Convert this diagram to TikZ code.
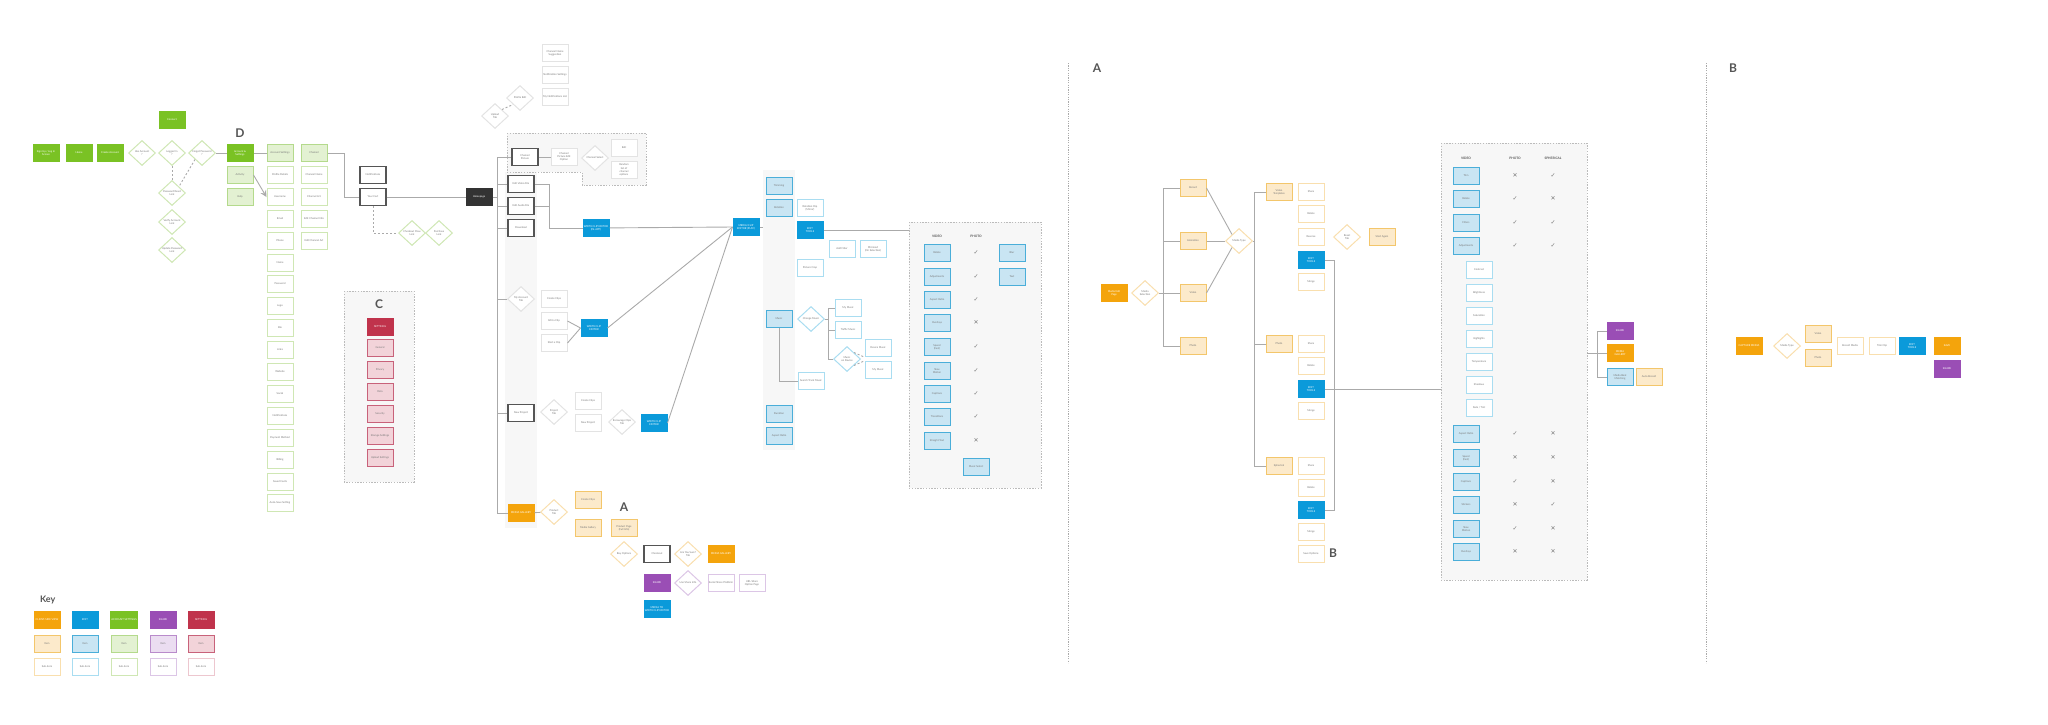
\documentclass[tikz,border=0pt]{standalone}
\usepackage{fontspec}
\setmainfont{Lato}
\newfontfamily\symf{DejaVu Sans}
\usetikzlibrary{shapes.geometric, arrows, positioning}

\definecolor{cgreen}{HTML}{7AC224}
\definecolor{cgreenl}{HTML}{E3F1D2}
\definecolor{cgreenb}{HTML}{B4DA8C}
\definecolor{cgreeno}{HTML}{CFE7B4}
\definecolor{corange}{HTML}{F4A40C}
\definecolor{corangel}{HTML}{FCEACB}
\definecolor{corangeb}{HTML}{F3C66B}
\definecolor{corangeo}{HTML}{F9DFAE}
\definecolor{cblue}{HTML}{0B9ADA}
\definecolor{cbluel}{HTML}{C9E5F3}
\definecolor{cblueb}{HTML}{4AAED9}
\definecolor{cblueo}{HTML}{A9DDF1}
\definecolor{cpurple}{HTML}{9A4EB5}
\definecolor{cpurplel}{HTML}{EBDDF1}
\definecolor{cpurpleb}{HTML}{B98BCB}
\definecolor{cpurpleo}{HTML}{DCC6E6}
\definecolor{cred}{HTML}{C0334C}
\definecolor{credl}{HTML}{F2D3D9}
\definecolor{credb}{HTML}{C8627A}
\definecolor{credo}{HTML}{EDC7CF}
\definecolor{cdark}{HTML}{555555}
\definecolor{cblack}{HTML}{333333}
\definecolor{cline}{HTML}{AAAAAA}
\definecolor{cwline}{HTML}{E3E3E3}
\definecolor{cpanel}{HTML}{F7F7F7}
\definecolor{ctext}{HTML}{777777}

\tikzstyle{box}     = [minimum width=13pt, minimum height=8.7pt, inner sep=0.3pt, align=center, line width=0.5pt, text=ctext, font=\fontsize{1.3}{1.6}\selectfont]
\tikzstyle{gfull}   = [box, fill=cgreen, draw=cgreen, text=white]
\tikzstyle{glight}  = [box, fill=cgreenl, draw=cgreenb]
\tikzstyle{gline}   = [box, fill=white, draw=cgreeno]
\tikzstyle{ofull}   = [box, fill=corange, draw=corange, text=white]
\tikzstyle{olight}  = [box, fill=corangel, draw=corangeb]
\tikzstyle{oline}   = [box, fill=white, draw=corangeo]
\tikzstyle{bfull}   = [box, fill=cblue, draw=cblue, text=white]
\tikzstyle{blight}  = [box, fill=cbluel, draw=cblueb]
\tikzstyle{bline}   = [box, fill=white, draw=cblueo]
\tikzstyle{pfull}   = [box, fill=cpurple, draw=cpurple, text=white]
\tikzstyle{plight}  = [box, fill=cpurplel, draw=cpurpleb]
\tikzstyle{pline}   = [box, fill=white, draw=cpurpleo]
\tikzstyle{rfull}   = [box, fill=cred, draw=cred, text=white]
\tikzstyle{rlight}  = [box, fill=credl, draw=credb]
\tikzstyle{rline}   = [box, fill=white, draw=credo]
\tikzstyle{dbox}    = [box, fill=white, draw=cdark, line width=0.7pt]
\tikzstyle{wbox}    = [box, fill=white, draw=cwline]
\tikzstyle{blk}     = [box, fill=cblack, draw=cblack, text=white]
\tikzstyle{dia}     = [diamond, aspect=1, minimum width=13.5pt, minimum height=12.5pt, inner sep=0pt, align=center, fill=white, line width=0.5pt, text=ctext, font=\fontsize{1.3}{1.6}\selectfont]
\tikzstyle{gdia}    = [dia, draw=cgreeno]
\tikzstyle{odia}    = [dia, draw=corangeo]
\tikzstyle{bdia}    = [dia, draw=cblueo]
\tikzstyle{pdia}    = [dia, draw=cpurpleo]
\tikzstyle{wdia}    = [dia, draw=cwline]
\tikzstyle{edge}    = [draw=cline, line width=0.45pt]
\tikzstyle{dedge}   = [edge, dash pattern=on 1pt off 1pt]
\tikzstyle{panel}   = [draw=cline!80, dash pattern=on 0.7pt off 0.7pt, fill=cpanel, line width=0.45pt]
\tikzstyle{divider} = [draw=cline, dash pattern=on 0.6pt off 0.6pt, line width=0.5pt]
\tikzstyle{letter}  = [font=\bfseries\fontsize{6}{6}\selectfont, text=cdark]
\tikzstyle{head}    = [font=\bfseries\fontsize{1.6}{2}\selectfont, text=cdark]
\tikzstyle{chk}     = [font=\symf\fontsize{3}{3}\selectfont, text=ctext]

\begin{document}
\begin{tikzpicture}[x=0.5pt, y=-0.5pt]
\useasboundingbox (0,0) rectangle (2048,724);

% podklady
\draw[panel] (344,291) rectangle (414,482);
\fill[cpanel] (505,172) rectangle (537,528);
\draw[panel] (507,133) -- (646,133) -- (646,185) -- (582,185) -- (582,172) -- (507,172) -- cycle;
\fill[cpanel] (763,170) rectangle (795,450);
\draw[panel] (909,222) rectangle (1041,488);
\draw[panel] (1441,143) rectangle (1587,580);
\draw[divider] (1068,63) -- (1068,663);
\draw[divider] (1706,63) -- (1706,663);

\node[letter] (lD) at (240,133) {D};
\node[letter] (lC) at (379,304) {C};
\node[letter] (lA) at (624,507) {A};
\node[letter] (lA2) at (1097,68) {A};
\node[letter] (lB) at (1733,68) {B};
\node[letter] (lB2) at (1333,553) {B};

% prihlaseni
\node[gfull] (g1) at (46,153) {Sign Up / Log In\\Screen};
\node[gfull] (g2) at (79,153) {Home};
\node[gfull] (g3) at (110,153) {Create Account};
\node[gdia] (gd1) at (142,153) {Has Account\\?};
\node[gdia] (gd2) at (172,153) {Logged In\\?};
\node[gdia] (gd3) at (202,153) {Forgot Password\\?};
\node[gfull] (gtop) at (172,120) {Connect};
\node[gdia] (gd4) at (172,193) {Password Reset\\Link};
\node[gdia] (gd5) at (172,222) {Verify Account\\Link};
\node[gdia] (gd6) at (172,250) {Update Password\\Link};

\draw[dedge] (gd2) -- (gd4);
\draw[dedge] (gd3.south west) -- (gd4.north east);

% ucet
\node[gfull] (gacc) at (240,153) {Account \&\\Settings};
\node[glight] (gl1) at (240,175) {Activity};
\node[glight] (gl2) at (240,197) {Help};
\draw[edge] (gd3) -- (gacc);

\node[glight] (c1a) at (280,153) {Account Settings};
\node[gline] (c1b) at (280,175) {Profile Details};
\node[gline] (c1c) at (280,197) {Username};
\node[gline] (c1d) at (280,219) {Email};
\node[gline] (c1e) at (280,241) {Phone};
\node[gline] (c1f) at (280,263) {Name};
\node[gline] (c1g) at (280,284) {Password};
\node[gline] (c1h) at (280,306) {Logo};
\node[gline] (c1i) at (280,328) {Bio};
\node[gline] (c1j) at (280,350) {Links};
\node[gline] (c1k) at (280,372) {Website};
\node[gline] (c1l) at (280,394) {Social};
\node[gline] (c1m) at (280,416) {Notifications};
\node[gline] (c1n) at (280,438) {Payment Method};
\node[gline] (c1o) at (280,460) {Billing};
\node[gline] (c1p) at (280,482) {Saved Cards};
\node[gline] (c1q) at (280,503) {Auto-Save Setting};

\node[glight] (c2a) at (314,153) {Channel};
\node[gline] (c2b) at (314,175) {Channel Name};
\node[gline] (c2c) at (314,197) {Channel Art};
\node[gline] (c2d) at (314,219) {Edit Channel Info};
\node[gline] (c2e) at (314,241) {Edit Channel Art};

\draw[edge] (gacc) -- (c1a);
\draw[edge, ->, >=stealth] (gl1.east) -- (c1c.west);

\node[dbox] (notif) at (373,175) {Notifications};
\node[dbox] (cart) at (373,197) {Your Cart};
\node[gdia] (cd1) at (412,233) {Checkout Flow\\Link};
\node[gdia] (cd2) at (439,233) {Purchase\\Link};
\draw[edge] (c2a.east) -- ++(17,0) |- (cart.west);
\draw[dedge] (cart.south) |- (cd1.west);

% nastaveni
\node[rfull] (r0) at (380,327) {SETTINGS};
\node[rlight] (r1) at (380,348) {General};
\node[rlight] (r2) at (380,370) {Privacy};
\node[rlight] (r3) at (380,392) {Data};
\node[rlight] (r4) at (380,414) {Security};
\node[rlight] (r5) at (380,436) {Storage Settings};
\node[rlight] (r6) at (380,458) {Upload Settings};

% hlavni stranka
\node[blk] (home) at (479,197) {Homepage};
\draw[edge] (cart) -- (home);
\coordinate (spine) at (497,0);

\node[wbox] (t1) at (555,53) {Channel Name\\Suggestion};
\node[wbox] (t2) at (555,75) {Notification Settings};
\node[wbox] (t3) at (555,97) {My Notifications List};
\node[wdia] (td1) at (520,98) {Profile Edit};
\node[wdia] (td2) at (495,116) {Upload\\Tab};
\draw[dedge] (td2.north east) -- (td1.south west);

\node[dbox] (pb1) at (525,157) {Channel\\Picture};
\node[wbox] (pb2) at (564,157) {Channel\\Picture Edit\\Option};
\node[wdia] (pd) at (595,158) {Channel Select};
\node[wbox] (pb3) at (624,148) {Edit};
\node[wbox] (pb4) at (624,170) {Random\\list of\\channel\\options};
\draw[edge] (pb1) -- (pb2);

\node[dbox] (b1) at (521,184) {Edit Video File};
\node[dbox] (b2) at (521,206) {Edit Audio File};
\node[dbox] (b3) at (521,228) {Download};
\node[bfull] (wc) at (596,228) {WRITE CLIP EDITOR\\(IN-APP)};
\node[bfull] (mc) at (746,227) {MEDIA/CLIP\\EDITOR (PLAY)};

\node[wdia] (md) at (521,299) {My Account\\Tab};
\node[wbox] (m1) at (554,299) {Create Clips};
\node[wbox] (m2) at (554,321) {Edit a Clip};
\node[wbox] (m3) at (554,343) {Start a Clip};
\node[bfull] (mw) at (594,328) {WRITE CLIP\\EDITOR};

\node[dbox] (nb) at (521,413) {New Project};
\node[wdia] (nd) at (554,412) {Project\\Tab};
\node[wbox] (n1) at (588,401) {Create Clips};
\node[wbox] (n2) at (588,423) {New Project};
\node[wdia] (nd2) at (622,422) {Encourage Clips\\Tab};
\node[bfull] (nw) at (654,423) {WRITE CLIP\\EDITOR};

\node[ofull] (buy) at (521,513) {MEDIA GALLERY};
\node[odia] (bd) at (554,512) {Product\\Tab};
\node[olight] (ob1) at (588,500) {Create Clips};
\node[olight] (ob2) at (588,528) {Media Gallery};
\node[olight] (ob3) at (624,528) {Product Page\\(Full Info)};
\node[odia] (ad) at (624,554) {Buy Options};
\node[dbox] (ab) at (657,554) {Checkout};
\node[odia] (ad2) at (688,554) {Are You Sure?\\Tab};
\node[ofull] (ao) at (721,554) {MEDIA GALLERY};
\node[pfull] (pu) at (657,583) {SHARE};
\node[pdia] (pd2) at (688,583) {Use Share Info};
\node[pline] (pw1) at (721,583) {Social Share Platform};
\node[pline] (pw2) at (752,583) {URL Share\\Option Page};
\node[bfull] (bl) at (657,609) {MEDIA TO\\WRITE CLIP EDITOR};

% pater
\draw[edge] (pb1.west) -- (pb1.west -| spine) |- (buy.west);
\draw[edge] (home.east) -- (home.east -| spine);
\draw[edge] (b1.west) -- (b1.west -| spine);
\draw[edge] (b2.west) -- (b2.west -| spine);
\draw[edge] (b3.west) -- (b3.west -| spine);
\draw[edge] (md.west) -- (md.west -| spine);
\draw[edge] (nb.west) -- (nb.west -| spine);
\draw[edge] (buy) -- (bd);

\coordinate (brk) at (549,0);
\draw[edge] (b1.east) -- (b1.east -| brk) |- (wc.west);
\draw[edge] (b2.east) -- (b2.east -| brk);
\draw[edge] (wc) -- (mc.west);
\draw[edge] (m2.east) -- (mw.west);
\draw[edge] (m3.east) -- (mw.west);
\draw[edge] (mw.east) -- (mc.west);
\draw[edge] (nw.east) -- (mc.west);

% editor
\coordinate (colin) at (763,227);
\draw[edge] (mc.east) -- (colin);
\node[blight] (bc1) at (779,186) {Trimming};
\node[blight] (bc2) at (779,208) {Rotation};
\node[blight] (bc3) at (779,319) {Music};
\node[blight] (bc4) at (779,414) {Duration};
\node[blight] (bc5) at (779,436) {Aspect Ratio};

\node[bline] (bw1) at (810,208) {Rotation Clip\\(Mirror)};
\node[bfull] (bsel) at (810,230) {EDIT\\TOOLS};
\node[bline] (bw2) at (810,268) {Picture Crop};
\node[bline] (bw3) at (842,249) {Add Filter};
\node[bline] (bw4) at (873,249) {Mirrored\\(On Selection)};
\coordinate (vp) at (909,230);
\draw[edge] (bsel) -- (vp);

\node[bdia] (bdm) at (811,319) {Change Music};
\node[bline] (bx1) at (848,308) {My Music};
\node[bline] (bx2) at (848,330) {Traffic Music};
\node[bdia] (bdm2) at (847,359) {Music\\on Device};
\node[bline] (bx3) at (878,348) {Device Music};
\node[bline] (bx4) at (878,370) {My Music};
\node[bline] (bw5) at (811,381) {Search Track Music};
\coordinate (bk) at (828,0);
\draw[edge] (bx1.west) -| (bk |- bdm2.west) -- (bdm2.west);
\draw[edge] (bx2.west) -- (bx2.west -| bk);
\draw[edge] (bdm.east) -- (bdm.east -| bk);
\draw[dedge] (bdm2.north east) -- (bx3.south west);
\draw[dedge] (bdm2.south east) -- (bx4.north west);
\draw[edge] (bc3.south) |- (bw5.west);

% tabulka 1
\node[head] (h1) at (937,236) {VIDEO};
\node[head] (h2) at (976,236) {PHOTO};
\node[blight] (v1) at (937,253) {Rotate};
\node[blight] (v2) at (937,277) {Adjustments};
\node[blight] (v3) at (937,300) {Aspect Ratio};
\node[blight] (v4) at (937,323) {Overlays};
\node[blight] (v5) at (937,347) {Speed\\(Fast)};
\node[blight] (v6) at (937,371) {Slow\\Motion};
\node[blight] (v7) at (937,394) {Captions};
\node[blight] (v8) at (937,417) {Transitions};
\node[blight] (v9) at (937,441) {Straight Text};
\node[chk] (k1) at (976,253) {✓};
\node[chk] (k2) at (976,277) {✓};
\node[chk] (k3) at (976,300) {✓};
\node[chk] (k4) at (976,323) {✕};
\node[chk] (k5) at (976,347) {✓};
\node[chk] (k6) at (976,371) {✓};
\node[chk] (k7) at (976,394) {✓};
\node[chk] (k8) at (976,417) {✓};
\node[chk] (k9) at (976,441) {✕};
\node[blight] (v10) at (1012,253) {Blur};
\node[blight] (v11) at (1012,277) {Text};
\node[blight] (v12) at (976,467) {Music Select};

% sekce A
\node[ofull] (as) at (1114,293) {Media Edit\\Page};
\node[odia] (asd) at (1145,293) {Media\\Selection};
\node[olight] (a1) at (1193,188) {Record};
\node[olight] (a2) at (1193,241) {Animation};
\node[olight] (a3) at (1193,293) {Video};
\node[olight] (a4) at (1193,346) {Photo};
\coordinate (ak) at (1163,0);
\draw[edge] (a1.west) -| (ak |- a4.west) -- (a4.west);
\draw[edge] (a2.west) -- (a2.west -| ak);
\draw[edge] (asd.east) -- (a3.west);

\node[odia] (mdia) at (1239,241) {Media Type};
\draw[edge] (a1.east) -- (mdia.north west);
\draw[edge] (a2.east) -- (mdia.west);
\draw[edge] (a3.east) -- (mdia.south west);

\node[olight] (e1) at (1279,192) {Video\\Templates};
\node[olight] (e2) at (1279,344) {Photo};
\node[olight] (e3) at (1279,466) {Spherical};
\coordinate (ek) at (1254,0);
\draw[edge] (e1.west) -| (ek |- e3.west) -- (e3.west);
\draw[edge] (e2.west) -- (e2.west -| ek);
\draw[edge] (mdia.east) -- (mdia.east -| ek);

\node[oline] (f1) at (1311,192) {Share};
\node[oline] (f2) at (1311,214) {Rotate};
\node[oline] (f3) at (1311,237) {Reverse};
\node[bfull] (f4) at (1311,260) {EDIT\\TOOLS};
\node[oline] (f5) at (1311,282) {Merge};
\node[oline] (f6) at (1311,344) {Share};
\node[oline] (f7) at (1311,366) {Rotate};
\node[bfull] (f8) at (1311,389) {EDIT\\TOOLS};
\node[oline] (f9) at (1311,411) {Merge};
\node[oline] (f10) at (1311,466) {Share};
\node[oline] (f11) at (1311,488) {Rotate};
\node[bfull] (f12) at (1311,510) {EDIT\\TOOLS};
\node[oline] (f13) at (1311,532) {Merge};
\node[oline] (f14) at (1311,554) {Save Options};
\node[odia] (fd) at (1347,237) {Reset\\Tab};
\node[olight] (fs) at (1382,237) {Start Again};

\draw[edge] (f4.east) -- ++(10,0) |- (f12.east);
\coordinate (tp) at (1441,389);
\draw[edge] (f8.east) -- (tp);

% tabulka 2
\node[head] (j1) at (1466,158) {VIDEO};
\node[head] (j2) at (1515,158) {PHOTO};
\node[head] (j3) at (1553,158) {SPHERICAL};
\node[blight] (w1) at (1466,176) {Trim};
\node[blight] (w2) at (1466,199) {Rotate};
\node[blight] (w3) at (1466,223) {Filters};
\node[blight] (w4) at (1466,246) {Adjustments};
\node[bline] (w5) at (1479,270) {Contrast};
\node[bline] (w6) at (1479,293) {Brightness};
\node[bline] (w7) at (1479,316) {Saturation};
\node[bline] (w8) at (1479,339) {Highlights};
\node[bline] (w9) at (1479,362) {Temperature};
\node[bline] (w10) at (1479,385) {Shadows};
\node[bline] (w11) at (1479,408) {Fade / Tint};
\node[blight] (w12) at (1466,434) {Aspect Ratio};
\node[blight] (w13) at (1466,458) {Speed\\(Fast)};
\node[blight] (w14) at (1466,482) {Captions};
\node[blight] (w15) at (1466,505) {Stickers};
\node[blight] (w16) at (1466,529) {Slow\\Motion};
\node[blight] (w17) at (1466,552) {Overlays};
\node[chk] (x1) at (1515,176) {✕};
\node[chk] (y1) at (1553,176) {✓};
\node[chk] (x2) at (1515,199) {✓};
\node[chk] (y2) at (1553,199) {✕};
\node[chk] (x3) at (1515,223) {✓};
\node[chk] (y3) at (1553,223) {✓};
\node[chk] (x4) at (1515,246) {✓};
\node[chk] (y4) at (1553,246) {✓};
\node[chk] (x12) at (1515,434) {✓};
\node[chk] (y12) at (1553,434) {✕};
\node[chk] (x13) at (1515,458) {✕};
\node[chk] (y13) at (1553,458) {✕};
\node[chk] (x14) at (1515,482) {✓};
\node[chk] (y14) at (1553,482) {✕};
\node[chk] (x15) at (1515,505) {✕};
\node[chk] (y15) at (1553,505) {✓};
\node[chk] (x16) at (1515,529) {✓};
\node[chk] (y16) at (1553,529) {✕};
\node[chk] (x17) at (1515,552) {✕};
\node[chk] (y17) at (1553,552) {✕};

\node[pfull] (s1) at (1620,331) {SHARE};
\node[ofull] (s2) at (1620,353) {MEDIA\\GALLERY};
\node[blight] (s3) at (1620,377) {Media Beat\\Matching};
\node[olight] (s4) at (1649,377) {Auto Record};
\coordinate (tq) at (1587,353);
\coordinate (sk) at (1597,0);
\draw[edge] (tq) -- (s2.west);
\draw[edge] (s1.west) -| (sk |- s3.west) -- (s3.west);

% sekce B
\node[ofull] (q1) at (1749,346) {CAPTURE MEDIA};
\node[odia] (q2) at (1787,346) {Media Type};
\node[olight] (q3) at (1818,334) {Video};
\node[olight] (q4) at (1818,358) {Photo};
\node[oline] (q5) at (1850,346) {Record Media};
\node[oline] (q6) at (1882,346) {Trim Clip};
\node[bfull] (q7) at (1912,346) {EDIT\\TOOLS};
\node[ofull] (q8) at (1947,346) {SAVE};
\node[pfull] (q9) at (1947,369) {SHARE};

% legenda
\node[letter, anchor=west, font=\bfseries\fontsize{4.5}{4.5}\selectfont] (key) at (33,600) {Key};
\node[ofull] (k01) at (47,620) {CLIENT-SIDE VIEW};
\node[bfull] (k02) at (85,620) {EDIT};
\node[gfull] (k03) at (124,620) {ACCOUNT SETTINGS};
\node[pfull] (k04) at (163,620) {SHARE};
\node[rfull] (k05) at (201,620) {SETTINGS};
\node[olight] (k11) at (47,644) {Item};
\node[blight] (k12) at (85,644) {Item};
\node[glight] (k13) at (124,644) {Item};
\node[plight] (k14) at (163,644) {Item};
\node[rlight] (k15) at (201,644) {Item};
\node[oline] (k21) at (47,667) {Sub-item};
\node[bline] (k22) at (85,667) {Sub-item};
\node[gline] (k23) at (124,667) {Sub-item};
\node[pline] (k24) at (163,667) {Sub-item};
\node[rline] (k25) at (201,667) {Sub-item};

\end{tikzpicture}
\end{document}
